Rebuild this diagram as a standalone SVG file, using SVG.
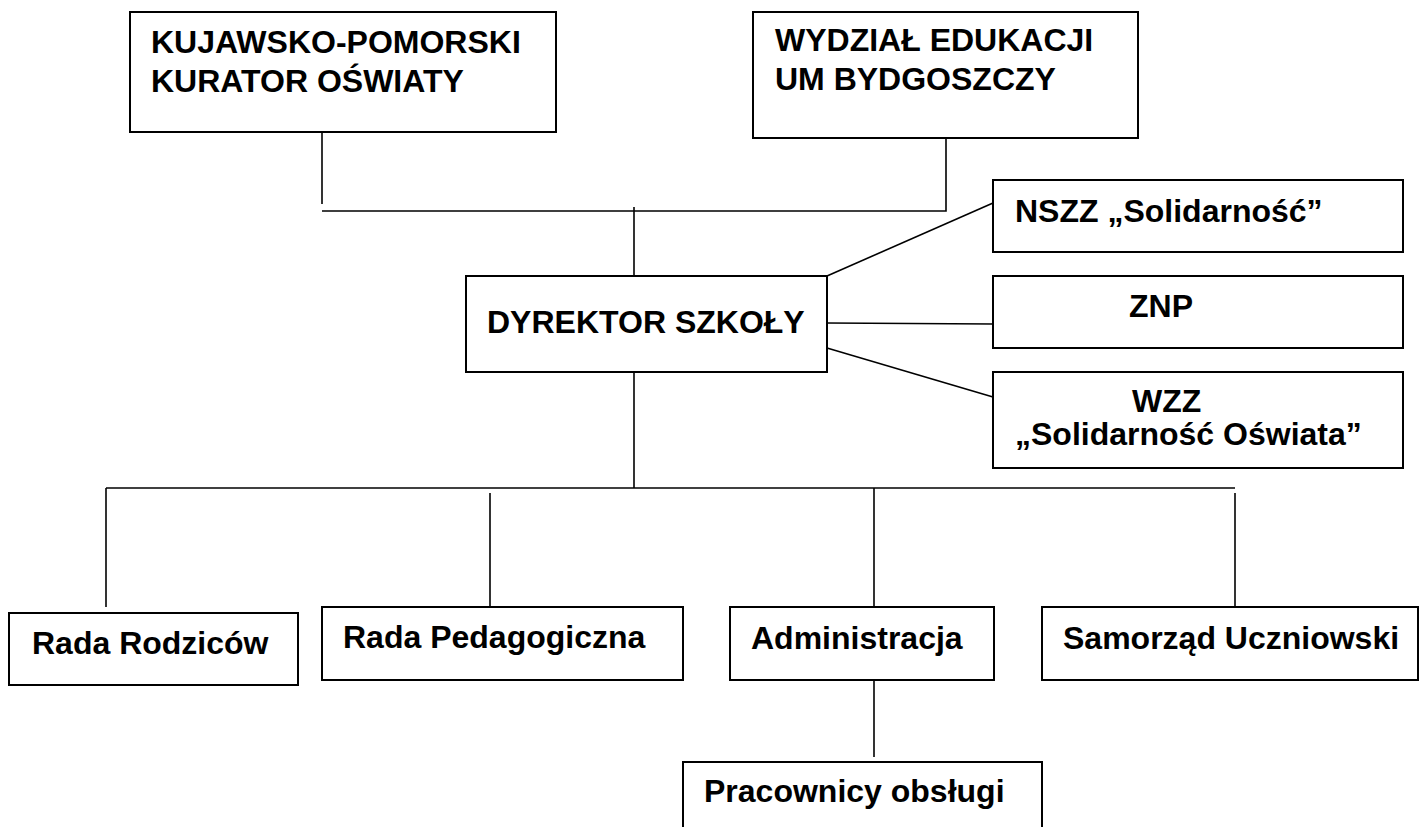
<svg xmlns="http://www.w3.org/2000/svg" width="1420" height="827" viewBox="0 0 1420 827">
<style>
.box{fill:#fff;stroke:#000;stroke-width:2}
.t{font-family:"Liberation Sans",Arial,sans-serif;font-weight:bold;font-size:32px;fill:#000}
.c{stroke:#000;stroke-width:1.6;fill:none}
</style>
<rect width="1420" height="827" fill="#fff"/>
<g id="connectors">
<polyline class="c" points="322,132 322,204"/>
<polyline class="c" points="946,138 946,211 322,211"/>
<line class="c" x1="634" y1="207" x2="634" y2="276"/>
<line class="c" x1="827" y1="276" x2="993" y2="203"/>
<line class="c" x1="827" y1="323" x2="993" y2="324"/>
<line class="c" x1="827" y1="348" x2="993" y2="397"/>
<line class="c" x1="634" y1="372" x2="634" y2="488"/>
<line class="c" x1="106" y1="488" x2="1235" y2="488"/>
<line class="c" x1="106" y1="488" x2="106" y2="607"/>
<line class="c" x1="490" y1="493" x2="490" y2="607"/>
<line class="c" x1="874" y1="488" x2="874" y2="607"/>
<line class="c" x1="1235" y1="493" x2="1235" y2="607"/>
<line class="c" x1="874" y1="680" x2="874" y2="757"/>
</g>
<g id="kurator"><rect class="box" x="130" y="12" width="426" height="120"/>
<text class="t" x="151" y="53">KUJAWSKO-POMORSKI</text><text class="t" x="151" y="92">KURATOR OŚWIATY</text></g>
<g id="wydzial"><rect class="box" x="753" y="12" width="385" height="126"/>
<text class="t" x="775" y="51">WYDZIAŁ EDUKACJI</text><text class="t" x="775" y="90">UM BYDGOSZCZY</text></g>
<g id="dyrektor"><rect class="box" x="466" y="276" width="361" height="96"/>
<text class="t" x="487" y="333">DYREKTOR SZKOŁY</text></g>
<g id="nszz"><rect class="box" x="993" y="180" width="410" height="72"/>
<text class="t" x="1015" y="222">NSZZ „Solidarność”</text></g>
<g id="znp"><rect class="box" x="993" y="276" width="410" height="72"/>
<text class="t" x="1129" y="317">ZNP</text></g>
<g id="wzz"><rect class="box" x="993" y="372" width="410" height="96"/>
<text class="t" x="1132" y="412">WZZ</text><text class="t" x="1015" y="445">„Solidarność Oświata”</text></g>
<g id="rada-rodzicow"><rect class="box" x="9" y="613" width="289" height="72"/>
<text class="t" x="32" y="654">Rada Rodziców</text></g>
<g id="rada-pedagogiczna"><rect class="box" x="322" y="607" width="361" height="73"/>
<text class="t" x="343" y="648">Rada Pedagogiczna</text></g>
<g id="administracja"><rect class="box" x="730" y="607" width="264" height="73"/>
<text class="t" x="751" y="649">Administracja</text></g>
<g id="samorzad"><rect class="box" x="1042" y="607" width="376" height="73"/>
<text class="t" x="1063" y="649">Samorząd Uczniowski</text></g>
<g id="pracownicy"><rect class="box" x="683" y="762" width="359" height="80"/>
<text class="t" x="704" y="802">Pracownicy obsługi</text></g>
</svg>
